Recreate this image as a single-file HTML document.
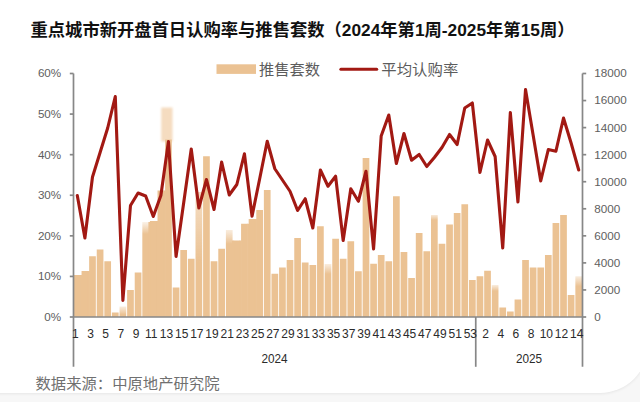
<!DOCTYPE html>
<html lang="zh"><head><meta charset="utf-8"><title>重点城市新开盘首日认购率与推售套数</title>
<style>
html,body{margin:0;padding:0}
body{width:640px;height:402px;overflow:hidden;background:#f7f7f7;font-family:"Liberation Sans",sans-serif;position:relative}
.card{position:absolute;left:-20px;top:-20px;width:668px;height:412.8px;background:#fff;border-radius:0 0 48px 0;box-shadow:0 0.5px 3px rgba(0,0,0,.07)}
svg{position:absolute;left:0;top:0}
text{font-family:"Liberation Sans","Noto Sans CJK SC",sans-serif}
.yl{font-size:10.9px;fill:#5e5e5e}
.xl{font-size:12.4px;fill:#2b2b2b}
.ttl{font-size:17px;font-weight:bold;fill:#111}
.lg{font-size:15.2px;fill:#5c5c5c}
.src{font-size:15.2px;fill:#707070}
</style></head><body>
<div class="card"></div>
<svg width="640" height="402" viewBox="0 0 640 402">
<defs>
<linearGradient id="f7" x1="0" y1="0" x2="0" y2="1"><stop offset="0" stop-color="#ebc293" stop-opacity="0.3"/><stop offset="0.762" stop-color="#ebc293" stop-opacity="1"/></linearGradient>
<linearGradient id="f10" x1="0" y1="0" x2="0" y2="1"><stop offset="0" stop-color="#ebc293" stop-opacity="0.2"/><stop offset="0.126" stop-color="#ebc293" stop-opacity="1"/></linearGradient>
<linearGradient id="f17" x1="0" y1="0" x2="0" y2="1"><stop offset="0" stop-color="#ebc293" stop-opacity="0.55"/><stop offset="0.560" stop-color="#ebc293" stop-opacity="1"/></linearGradient>
<linearGradient id="f21" x1="0" y1="0" x2="0" y2="1"><stop offset="0" stop-color="#ebc293" stop-opacity="0.3"/><stop offset="0.161" stop-color="#ebc293" stop-opacity="1"/></linearGradient>
<linearGradient id="f34" x1="0" y1="0" x2="0" y2="1"><stop offset="0" stop-color="#ebc293" stop-opacity="0.3"/><stop offset="0.189" stop-color="#ebc293" stop-opacity="1"/></linearGradient>
<linearGradient id="f48" x1="0" y1="0" x2="0" y2="1"><stop offset="0" stop-color="#ebc293" stop-opacity="0.35"/><stop offset="0.049" stop-color="#ebc293" stop-opacity="1"/></linearGradient>
<linearGradient id="f56" x1="0" y1="0" x2="0" y2="1"><stop offset="0" stop-color="#ebc293" stop-opacity="0.3"/><stop offset="0.188" stop-color="#ebc293" stop-opacity="1"/></linearGradient>
<linearGradient id="f67" x1="0" y1="0" x2="0" y2="1"><stop offset="0" stop-color="#ebc293" stop-opacity="0.3"/><stop offset="0.245" stop-color="#ebc293" stop-opacity="1"/></linearGradient>
<filter id="bl" x="-30%" y="-10%" width="160%" height="120%"><feGaussianBlur stdDeviation="0.9"/></filter>
<filter id="sb" x="-2%" y="-2%" width="104%" height="104%"><feGaussianBlur stdDeviation="0.35"/></filter>
</defs>
<rect x="161.2" y="107.5" width="11.3" height="34" fill="#f5dcc0" filter="url(#bl)"/>
<g filter="url(#sb)">
<rect x="73.95" y="275.00" width="6.7" height="42.00" fill="#ebc293"/>
<rect x="81.55" y="271.00" width="6.7" height="46.00" fill="#ebc293"/>
<rect x="89.14" y="256.25" width="6.7" height="60.75" fill="#ebc293"/>
<rect x="96.74" y="249.50" width="6.7" height="67.50" fill="#ebc293"/>
<rect x="104.34" y="261.25" width="6.7" height="55.75" fill="#ebc293"/>
<rect x="111.93" y="312.50" width="6.7" height="4.50" fill="#ebc293"/>
<rect x="119.53" y="306.50" width="6.7" height="10.50" fill="url(#f7)"/>
<rect x="127.13" y="290.00" width="6.7" height="27.00" fill="#ebc293"/>
<rect x="134.72" y="272.50" width="6.7" height="44.50" fill="#ebc293"/>
<rect x="142.32" y="222.00" width="6.7" height="95.00" fill="url(#f10)"/>
<rect x="149.92" y="221.00" width="6.7" height="96.00" fill="#ebc293"/>
<rect x="157.52" y="190.50" width="6.7" height="126.50" fill="#ebc293"/>
<rect x="165.11" y="139.50" width="6.7" height="177.50" fill="#ebc293"/>
<rect x="172.71" y="287.50" width="6.7" height="29.50" fill="#ebc293"/>
<rect x="180.31" y="250.00" width="6.7" height="67.00" fill="#ebc293"/>
<rect x="187.90" y="258.75" width="6.7" height="58.25" fill="#ebc293"/>
<rect x="195.50" y="192.00" width="6.7" height="125.00" fill="url(#f17)"/>
<rect x="203.10" y="156.25" width="6.7" height="160.75" fill="#ebc293"/>
<rect x="210.69" y="261.25" width="6.7" height="55.75" fill="#ebc293"/>
<rect x="218.29" y="248.75" width="6.7" height="68.25" fill="#ebc293"/>
<rect x="225.89" y="230.00" width="6.7" height="87.00" fill="url(#f21)"/>
<rect x="233.49" y="240.50" width="6.7" height="76.50" fill="#ebc293"/>
<rect x="241.08" y="223.75" width="6.7" height="93.25" fill="#ebc293"/>
<rect x="248.68" y="219.00" width="6.7" height="98.00" fill="#ebc293"/>
<rect x="256.28" y="210.00" width="6.7" height="107.00" fill="#ebc293"/>
<rect x="263.87" y="190.00" width="6.7" height="127.00" fill="#ebc293"/>
<rect x="271.47" y="273.75" width="6.7" height="43.25" fill="#ebc293"/>
<rect x="279.07" y="267.50" width="6.7" height="49.50" fill="#ebc293"/>
<rect x="286.66" y="260.00" width="6.7" height="57.00" fill="#ebc293"/>
<rect x="294.26" y="238.00" width="6.7" height="79.00" fill="#ebc293"/>
<rect x="301.86" y="262.50" width="6.7" height="54.50" fill="#ebc293"/>
<rect x="309.46" y="265.00" width="6.7" height="52.00" fill="#ebc293"/>
<rect x="317.05" y="226.25" width="6.7" height="90.75" fill="#ebc293"/>
<rect x="324.65" y="264.00" width="6.7" height="53.00" fill="url(#f34)"/>
<rect x="332.25" y="238.75" width="6.7" height="78.25" fill="#ebc293"/>
<rect x="339.84" y="258.75" width="6.7" height="58.25" fill="#ebc293"/>
<rect x="347.44" y="241.25" width="6.7" height="75.75" fill="#ebc293"/>
<rect x="355.04" y="271.25" width="6.7" height="45.75" fill="#ebc293"/>
<rect x="362.64" y="158.00" width="6.7" height="159.00" fill="#ebc293"/>
<rect x="370.23" y="263.75" width="6.7" height="53.25" fill="#ebc293"/>
<rect x="377.83" y="255.00" width="6.7" height="62.00" fill="#ebc293"/>
<rect x="385.43" y="261.25" width="6.7" height="55.75" fill="#ebc293"/>
<rect x="393.02" y="196.25" width="6.7" height="120.75" fill="#ebc293"/>
<rect x="400.62" y="252.00" width="6.7" height="65.00" fill="#ebc293"/>
<rect x="408.22" y="278.00" width="6.7" height="39.00" fill="#ebc293"/>
<rect x="415.81" y="233.00" width="6.7" height="84.00" fill="#ebc293"/>
<rect x="423.41" y="251.25" width="6.7" height="65.75" fill="#ebc293"/>
<rect x="431.01" y="215.00" width="6.7" height="102.00" fill="url(#f48)"/>
<rect x="438.61" y="243.75" width="6.7" height="73.25" fill="#ebc293"/>
<rect x="446.20" y="224.50" width="6.7" height="92.50" fill="#ebc293"/>
<rect x="453.80" y="213.00" width="6.7" height="104.00" fill="#ebc293"/>
<rect x="461.40" y="204.25" width="6.7" height="112.75" fill="#ebc293"/>
<rect x="468.99" y="280.00" width="6.7" height="37.00" fill="#ebc293"/>
<rect x="476.59" y="276.25" width="6.7" height="40.75" fill="#ebc293"/>
<rect x="484.19" y="270.75" width="6.7" height="46.25" fill="#ebc293"/>
<rect x="491.78" y="285.00" width="6.7" height="32.00" fill="url(#f56)"/>
<rect x="499.38" y="307.50" width="6.7" height="9.50" fill="#ebc293"/>
<rect x="506.98" y="311.50" width="6.7" height="5.50" fill="#ebc293"/>
<rect x="514.58" y="299.50" width="6.7" height="17.50" fill="#ebc293"/>
<rect x="522.17" y="260.00" width="6.7" height="57.00" fill="#ebc293"/>
<rect x="529.77" y="267.50" width="6.7" height="49.50" fill="#ebc293"/>
<rect x="537.37" y="267.50" width="6.7" height="49.50" fill="#ebc293"/>
<rect x="544.96" y="255.00" width="6.7" height="62.00" fill="#ebc293"/>
<rect x="552.56" y="223.00" width="6.7" height="94.00" fill="#ebc293"/>
<rect x="560.16" y="215.00" width="6.7" height="102.00" fill="#ebc293"/>
<rect x="567.75" y="295.00" width="6.7" height="22.00" fill="#ebc293"/>
<rect x="575.35" y="276.25" width="6.7" height="40.75" fill="url(#f67)"/>
<rect x="80.05" y="275.00" width="2.10" height="42.00" fill="#ebc293"/>
<rect x="87.65" y="271.00" width="2.10" height="46.00" fill="#ebc293"/>
<rect x="148.42" y="222.00" width="2.10" height="95.00" fill="#ebc293"/>
<rect x="156.02" y="221.00" width="2.10" height="96.00" fill="#ebc293"/>
<rect x="163.62" y="190.50" width="2.10" height="126.50" fill="#ebc293"/>
<rect x="231.99" y="240.50" width="2.10" height="76.50" fill="#ebc293"/>
<rect x="239.59" y="240.50" width="2.10" height="76.50" fill="#ebc293"/>
<rect x="247.18" y="223.75" width="2.10" height="93.25" fill="#ebc293"/>
<rect x="254.78" y="219.00" width="2.10" height="98.00" fill="#ebc293"/>
</g>
<g stroke="#878787" stroke-width="1.7" fill="none">
<path d="M73.5 73.5V366.8"/>
<path d="M582.5 73.5V366.8"/>
<path d="M73.5 317.0H582.5"/>
<path d="M475.75 317.0V366.8"/>
<path d="M69.8 317.00H73.5"/>
<path d="M69.8 276.42H73.5"/>
<path d="M69.8 235.83H73.5"/>
<path d="M69.8 195.25H73.5"/>
<path d="M69.8 154.67H73.5"/>
<path d="M69.8 114.08H73.5"/>
<path d="M69.8 73.50H73.5"/>
<path d="M582.5 317.00H586.2"/>
<path d="M582.5 289.94H586.2"/>
<path d="M582.5 262.89H586.2"/>
<path d="M582.5 235.83H586.2"/>
<path d="M582.5 208.78H586.2"/>
<path d="M582.5 181.72H586.2"/>
<path d="M582.5 154.67H586.2"/>
<path d="M582.5 127.61H586.2"/>
<path d="M582.5 100.56H586.2"/>
<path d="M582.5 73.50H586.2"/>
</g>
<polyline points="77.30,195.50 84.90,238.00 92.49,177.00 100.09,152.50 107.69,128.00 115.28,96.50 122.88,300.50 130.48,205.50 138.07,193.00 145.67,196.00 153.27,216.50 160.87,195.50 168.46,141.50 176.06,256.50 183.66,203.00 191.25,149.00 198.85,208.00 206.45,179.50 214.04,209.50 221.64,162.00 229.24,195.00 236.84,184.50 244.43,153.75 252.03,216.25 259.63,179.00 267.22,141.25 274.82,168.75 282.42,180.00 290.01,191.25 297.61,210.50 305.21,198.75 312.81,228.00 320.40,170.00 328.00,186.25 335.60,176.25 343.19,240.50 350.79,188.75 358.39,201.25 365.99,171.25 373.58,249.00 381.18,136.00 388.78,115.00 396.37,163.50 403.97,133.50 411.57,160.25 419.16,154.50 426.76,166.50 434.36,157.50 441.96,147.50 449.55,134.50 457.15,144.50 464.75,108.00 472.34,103.00 479.94,172.50 487.54,140.00 495.13,156.50 502.73,248.00 510.33,112.50 517.93,202.00 525.52,89.50 533.12,135.00 540.72,181.00 548.31,149.50 555.91,151.25 563.51,118.00 571.10,143.00 578.70,170.00" fill="none" stroke="#a21913" stroke-width="3.1" stroke-linejoin="round" stroke-linecap="round"/>
<text class="yl" transform="translate(61.2 320.90) scale(1.07 1)" text-anchor="end">0%</text>
<text class="yl" transform="translate(61.2 280.32) scale(1.07 1)" text-anchor="end">10%</text>
<text class="yl" transform="translate(61.2 239.73) scale(1.07 1)" text-anchor="end">20%</text>
<text class="yl" transform="translate(61.2 199.15) scale(1.07 1)" text-anchor="end">30%</text>
<text class="yl" transform="translate(61.2 158.57) scale(1.07 1)" text-anchor="end">40%</text>
<text class="yl" transform="translate(61.2 117.98) scale(1.07 1)" text-anchor="end">50%</text>
<text class="yl" transform="translate(61.2 77.40) scale(1.07 1)" text-anchor="end">60%</text>
<text class="yl" transform="translate(594.2 320.90) scale(1.075 1)">0</text>
<text class="yl" transform="translate(594.2 293.84) scale(1.075 1)">2000</text>
<text class="yl" transform="translate(594.2 266.79) scale(1.075 1)">4000</text>
<text class="yl" transform="translate(594.2 239.73) scale(1.075 1)">6000</text>
<text class="yl" transform="translate(594.2 212.68) scale(1.075 1)">8000</text>
<text class="yl" transform="translate(594.2 185.62) scale(1.075 1)">10000</text>
<text class="yl" transform="translate(594.2 158.57) scale(1.075 1)">12000</text>
<text class="yl" transform="translate(594.2 131.51) scale(1.075 1)">14000</text>
<text class="yl" transform="translate(594.2 104.46) scale(1.075 1)">16000</text>
<text class="yl" transform="translate(594.2 77.40) scale(1.075 1)">18000</text>
<text class="xl" transform="translate(75.30 338.2) scale(0.97 1)" text-anchor="middle">1</text>
<text class="xl" transform="translate(90.49 338.2) scale(0.97 1)" text-anchor="middle">3</text>
<text class="xl" transform="translate(105.69 338.2) scale(0.97 1)" text-anchor="middle">5</text>
<text class="xl" transform="translate(120.88 338.2) scale(0.97 1)" text-anchor="middle">7</text>
<text class="xl" transform="translate(136.07 338.2) scale(0.97 1)" text-anchor="middle">9</text>
<text class="xl" transform="translate(151.27 338.2) scale(0.97 1)" text-anchor="middle">11</text>
<text class="xl" transform="translate(166.46 338.2) scale(0.97 1)" text-anchor="middle">13</text>
<text class="xl" transform="translate(181.66 338.2) scale(0.97 1)" text-anchor="middle">15</text>
<text class="xl" transform="translate(196.85 338.2) scale(0.97 1)" text-anchor="middle">17</text>
<text class="xl" transform="translate(212.04 338.2) scale(0.97 1)" text-anchor="middle">19</text>
<text class="xl" transform="translate(227.24 338.2) scale(0.97 1)" text-anchor="middle">21</text>
<text class="xl" transform="translate(242.43 338.2) scale(0.97 1)" text-anchor="middle">23</text>
<text class="xl" transform="translate(257.63 338.2) scale(0.97 1)" text-anchor="middle">25</text>
<text class="xl" transform="translate(272.82 338.2) scale(0.97 1)" text-anchor="middle">27</text>
<text class="xl" transform="translate(288.01 338.2) scale(0.97 1)" text-anchor="middle">29</text>
<text class="xl" transform="translate(303.21 338.2) scale(0.97 1)" text-anchor="middle">31</text>
<text class="xl" transform="translate(318.40 338.2) scale(0.97 1)" text-anchor="middle">33</text>
<text class="xl" transform="translate(333.60 338.2) scale(0.97 1)" text-anchor="middle">35</text>
<text class="xl" transform="translate(348.79 338.2) scale(0.97 1)" text-anchor="middle">37</text>
<text class="xl" transform="translate(363.99 338.2) scale(0.97 1)" text-anchor="middle">39</text>
<text class="xl" transform="translate(379.18 338.2) scale(0.97 1)" text-anchor="middle">41</text>
<text class="xl" transform="translate(394.37 338.2) scale(0.97 1)" text-anchor="middle">43</text>
<text class="xl" transform="translate(409.57 338.2) scale(0.97 1)" text-anchor="middle">45</text>
<text class="xl" transform="translate(424.76 338.2) scale(0.97 1)" text-anchor="middle">47</text>
<text class="xl" transform="translate(439.96 338.2) scale(0.97 1)" text-anchor="middle">49</text>
<text class="xl" transform="translate(455.15 338.2) scale(0.97 1)" text-anchor="middle">51</text>
<text class="xl" transform="translate(470.34 338.2) scale(0.97 1)" text-anchor="middle">53</text>
<text class="xl" transform="translate(485.54 338.2) scale(0.97 1)" text-anchor="middle">2</text>
<text class="xl" transform="translate(500.73 338.2) scale(0.97 1)" text-anchor="middle">4</text>
<text class="xl" transform="translate(515.93 338.2) scale(0.97 1)" text-anchor="middle">6</text>
<text class="xl" transform="translate(531.12 338.2) scale(0.97 1)" text-anchor="middle">8</text>
<text class="xl" transform="translate(546.31 338.2) scale(0.97 1)" text-anchor="middle">10</text>
<text class="xl" transform="translate(561.51 338.2) scale(0.97 1)" text-anchor="middle">12</text>
<text class="xl" transform="translate(576.70 338.2) scale(0.97 1)" text-anchor="middle">14</text>
<text class="xl" transform="translate(274.5 363.4) scale(0.95 1)" text-anchor="middle">2024</text>
<text class="xl" transform="translate(529 363.4) scale(0.95 1)" text-anchor="middle">2025</text>
<rect x="216.5" y="64.3" width="39.5" height="9.6" fill="#ebc293"/>
<path d="M340.9 69.2H376.7" stroke="#a21913" stroke-width="3.1" stroke-linecap="round"/>
<text class="ttl" x="30.5" y="36.4" textLength="544" lengthAdjust="spacingAndGlyphs">重点城市新开盘首日认购率与推售套数（2024年第1周-2025年第15周）</text>
<text class="lg" x="259" y="74.6" textLength="61" lengthAdjust="spacingAndGlyphs">推售套数</text>
<text class="lg" x="381.3" y="74.6" textLength="77" lengthAdjust="spacingAndGlyphs">平均认购率</text>
<text class="src" x="35.5" y="388.6" textLength="184" lengthAdjust="spacingAndGlyphs">数据来源：中原地产研究院</text>
</svg></body></html>
